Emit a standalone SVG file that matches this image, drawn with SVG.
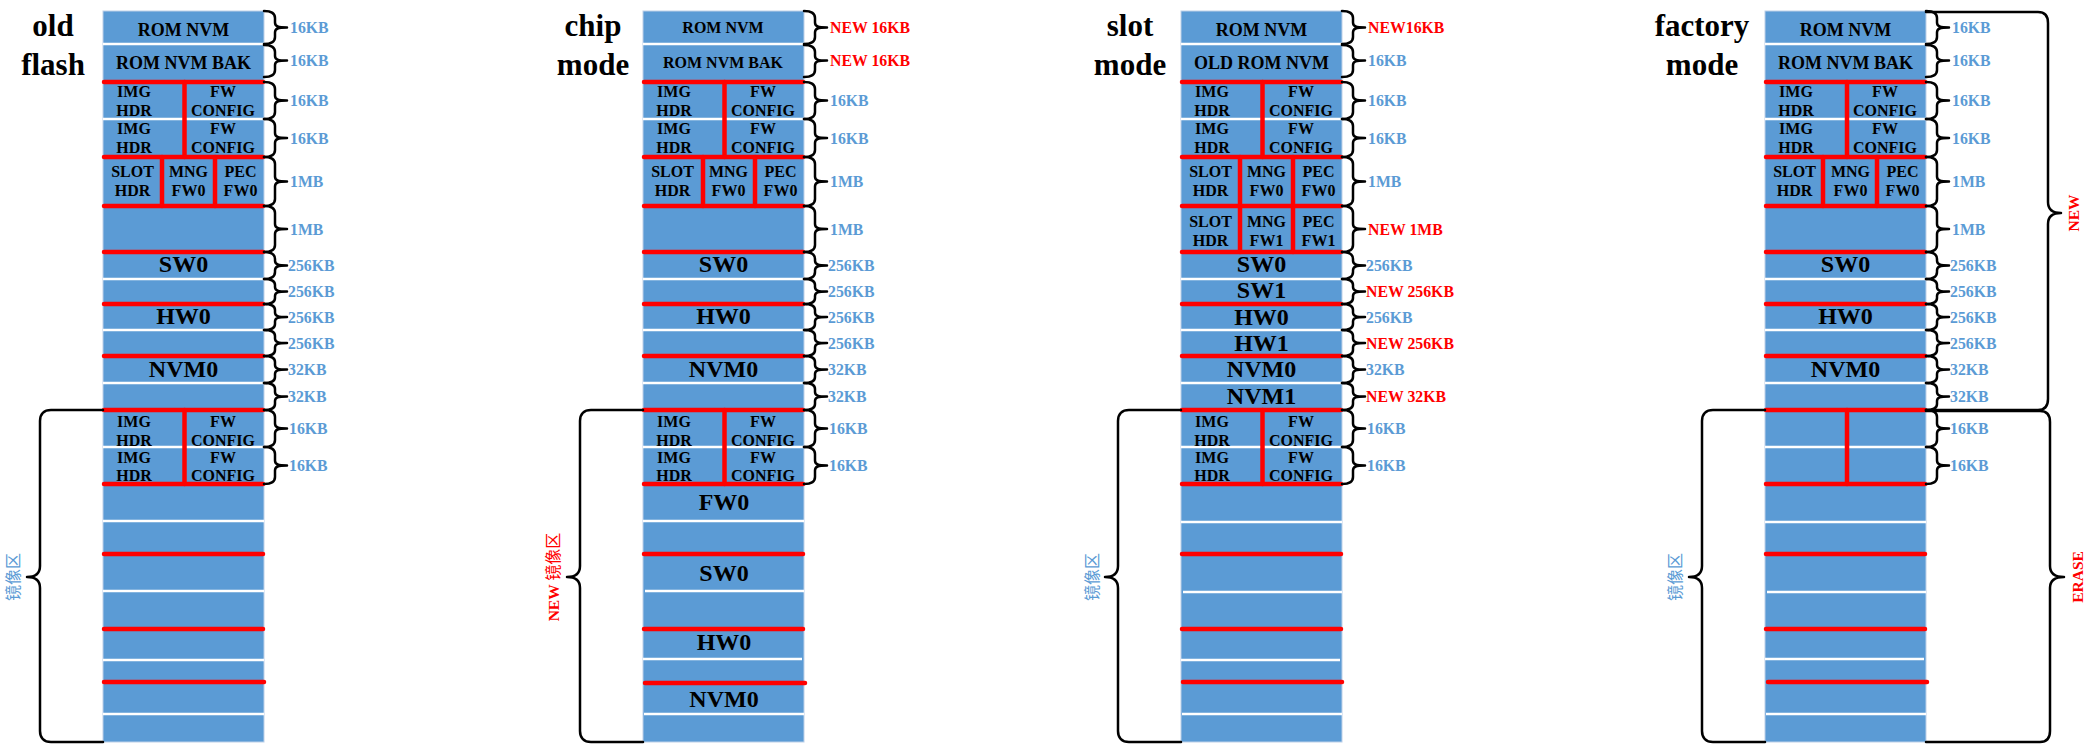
<svg xmlns="http://www.w3.org/2000/svg" xmlns:xlink="http://www.w3.org/1999/xlink" width="2094" height="750" viewBox="0 0 2094 750">
<style>
.col{fill:#5B9BD5;stroke:#BDD0E8;stroke-width:1}
.sep{stroke:#FFFFFF;stroke-width:2.5}
.rl{stroke:#FF0000;stroke-width:4.5;stroke-linecap:round;fill:none}
.br{fill:none;stroke:#000000;stroke-width:2.5;stroke-linejoin:round;stroke-linecap:round}
text{font-family:"Liberation Serif","Times New Roman",serif;font-weight:bold;text-anchor:middle;fill:#000000}
.title{font-size:31px}
.s{font-size:16px}
.m{font-size:18px}
.L{font-size:24px}
.kb{font-size:15.8px;fill:#5B9BD5;text-anchor:start}
.nk{font-size:15.8px;fill:#FF0000;text-anchor:start}
.vr{font-size:15.5px;text-anchor:middle;dominant-baseline:central}
.cj{font-family:"Liberation Serif","Noto Sans CJK SC",sans-serif;font-weight:normal;font-size:16px}
</style>
<defs>
<g id="rb" class="br">
<path d="M0,11 C7,11 11,13 11,18 L11,22.5 C11,26.5 14,27.5 23,27.5 C14,27.5 11,28.5 11,32.5 L11,37 C11,42 7,44 0,44"/>
<path d="M0,45 C7,45 11,47 11,52 L11,56 C11,59.5 14,60.5 23,60.5 C14,60.5 11,61.5 11,65 L11,70 C11,75 7,77 0,77"/>
<path d="M0,82 C7,82 11,84 11,89 L11,95.5 C11,99.5 14,100.5 23,100.5 C14,100.5 11,101.5 11,105.5 L11,112 C11,117 7,119 0,119"/>
<path d="M0,119 C7,119 11,121 11,126 L11,133 C11,137 14,138 23,138 C14,138 11,139 11,143 L11,150 C11,155 7,157 0,157"/>
<path d="M0,157 C7,157 11,159 11,164 L11,176.5 C11,180.5 14,181.5 23,181.5 C14,181.5 11,182.5 11,186.5 L11,199 C11,204 7,206 0,206"/>
<path d="M0,206 C7,206 11,208 11,213 L11,224 C11,228 14,229 23,229 C14,229 11,230 11,234 L11,245 C11,250 7,252 0,252"/>
<path d="M0,252 C7,252 11,254 11,259 L11,260.5 C11,264.5 14,265.5 23,265.5 C14,265.5 11,266.5 11,270.5 L11,272 C11,277 7,279 0,279"/>
<path d="M0,279 C7,279 11,281 11,285 L11,287 C11,290.5 14,291.5 23,291.5 C14,291.5 11,292.5 11,296 L11,298 C11,302 7,304 0,304"/>
<path d="M0,304 C7,304 11,306 11,310 L11,312.5 C11,316 14,317 23,317 C14,317 11,318 11,321.5 L11,324 C11,328 7,330 0,330"/>
<path d="M0,330 C7,330 11,332 11,336 L11,338.5 C11,342 14,343 23,343 C14,343 11,344 11,347.5 L11,350 C11,354 7,356 0,356"/>
<path d="M0,356 C7,356 11,358 11,362 L11,365 C11,368.5 14,369.5 23,369.5 C14,369.5 11,370.5 11,374 L11,377 C11,381 7,383 0,383"/>
<path d="M0,383 C7,383 11,385 11,389 L11,392 C11,395.5 14,396.5 23,396.5 C14,396.5 11,397.5 11,401 L11,404 C11,408 7,410 0,410"/>
<path d="M0,410 C7,410 11,412 11,417 L11,423.5 C11,427.5 14,428.5 23,428.5 C14,428.5 11,429.5 11,433.5 L11,440 C11,445 7,447 0,447"/>
<path d="M0,447 C7,447 11,449 11,454 L11,460.5 C11,464.5 14,465.5 23,465.5 C14,465.5 11,466.5 11,470.5 L11,477 C11,482 7,484 0,484"/>
</g>
<path id="lb" class="br" d="M0,410 L-52,410 C-59,410 -63,414 -63,421 L-63,566 C-63,573 -67,577 -76,577 C-67,577 -63,581 -63,588 L-63,731 C-63,738 -59,742 -52,742 L0,742"/>
<g id="top2">
<text class="s" x="31" y="97">IMG</text><text class="s" x="31" y="116">HDR</text>
<text class="s" x="120" y="97">FW</text><text class="s" x="120" y="116">CONFIG</text>
<text class="s" x="31" y="134">IMG</text><text class="s" x="31" y="153">HDR</text>
<text class="s" x="120" y="134">FW</text><text class="s" x="120" y="153">CONFIG</text>
<text class="s" x="29.5" y="177">SLOT</text><text class="s" x="29.5" y="196">HDR</text>
<text class="s" x="85.5" y="177">MNG</text><text class="s" x="85.5" y="196">FW0</text>
<text class="s" x="137.5" y="177">PEC</text><text class="s" x="137.5" y="196">FW0</text>
</g>
<g id="low2">
<text class="s" x="31" y="427">IMG</text><text class="s" x="31" y="446">HDR</text>
<text class="s" x="120" y="427">FW</text><text class="s" x="120" y="446">CONFIG</text>
<text class="s" x="31" y="463">IMG</text><text class="s" x="31" y="481">HDR</text>
<text class="s" x="120" y="463">FW</text><text class="s" x="120" y="481">CONFIG</text>
</g>
</defs>

<!-- Column 1: old flash -->
<g id="col-old-flash">
<text class="title" x="53" y="36">old</text>
<text class="title" x="53" y="75">flash</text>
<g id="old-blocks" transform="translate(103,0)">
<rect class="col" x="0" y="11" width="161" height="731"/>
<g class="sep">
<line x1="0" y1="44" x2="161" y2="44"/><line x1="0" y1="119" x2="161" y2="119"/>
<line x1="0" y1="279" x2="161" y2="279"/><line x1="0" y1="330" x2="161" y2="330"/>
<line x1="0" y1="383" x2="161" y2="383"/><line x1="0" y1="447" x2="161" y2="447"/>
<line x1="0" y1="521" x2="161" y2="521"/><line x1="0" y1="591" x2="161" y2="591"/>
<line x1="0" y1="660" x2="161" y2="660"/><line x1="0" y1="714" x2="161" y2="714"/>
</g>
<g class="rl">
<line x1="1" y1="82" x2="160" y2="82"/><line x1="1" y1="157" x2="160" y2="157"/>
<line x1="1" y1="206" x2="160" y2="206"/><line x1="1" y1="252" x2="160" y2="252"/>
<line x1="1" y1="304" x2="160" y2="304"/><line x1="1" y1="356" x2="160" y2="356"/>
<line x1="1" y1="410" x2="160" y2="410"/><line x1="1" y1="484" x2="160" y2="484"/>
<line x1="1" y1="554" x2="160" y2="554"/><line x1="1" y1="629" x2="160" y2="629"/>
<line x1="1" y1="682" x2="161" y2="682"/>
<line x1="81.5" y1="82" x2="81.5" y2="157"/><line x1="81.5" y1="410" x2="81.5" y2="484"/>
<line x1="59" y1="157" x2="59" y2="206"/><line x1="112" y1="157" x2="112" y2="206"/>
</g>
<text class="m" x="80.5" y="36">ROM NVM</text>
<text class="m" x="80.5" y="69">ROM NVM BAK</text>
<use xlink:href="#top2"/>
<text class="L" x="80.5" y="272">SW0</text>
<text class="L" x="80.5" y="324">HW0</text>
<text class="L" x="80.5" y="377">NVM0</text>
<use xlink:href="#low2"/>
</g>
<g id="old-sizes">
<text class="kb" x="290" y="33">16KB</text><text class="kb" x="290" y="65.5">16KB</text>
<text class="kb" x="290" y="106">16KB</text><text class="kb" x="290" y="143.5">16KB</text>
<text class="kb" x="290" y="187">1MB</text><text class="kb" x="290" y="234.5">1MB</text>
<text class="kb" x="288" y="271">256KB</text><text class="kb" x="288" y="297">256KB</text>
<text class="kb" x="288" y="322.5">256KB</text><text class="kb" x="288" y="348.5">256KB</text>
<text class="kb" x="288" y="375">32KB</text><text class="kb" x="288" y="402">32KB</text>
<text class="kb" x="289" y="434">16KB</text><text class="kb" x="289" y="471">16KB</text>
</g>
<text class="vr cj" transform="translate(13.5,577) rotate(-90)" style="fill:#5B9BD5">镜像区</text>
</g>

<!-- Column 2: chip mode -->
<g id="col-chip-mode">
<text class="title" x="593" y="36">chip</text>
<text class="title" x="593" y="75">mode</text>
<g id="chip-blocks" transform="translate(643,0)">
<rect class="col" x="0" y="11" width="161" height="731"/>
<g class="sep">
<line x1="0" y1="44" x2="161" y2="44"/><line x1="0" y1="119" x2="161" y2="119"/>
<line x1="0" y1="279" x2="161" y2="279"/><line x1="0" y1="330" x2="161" y2="330"/>
<line x1="0" y1="383" x2="161" y2="383"/><line x1="0" y1="447" x2="161" y2="447"/>
<line x1="0" y1="521" x2="161" y2="521"/><line x1="2" y1="591" x2="161" y2="591"/>
<line x1="0" y1="659" x2="159" y2="659"/><line x1="1" y1="714" x2="161" y2="714"/>
</g>
<g class="rl">
<line x1="1" y1="82" x2="160" y2="82"/><line x1="1" y1="157" x2="160" y2="157"/>
<line x1="1" y1="206" x2="160" y2="206"/><line x1="1" y1="252" x2="160" y2="252"/>
<line x1="1" y1="304" x2="160" y2="304"/><line x1="1" y1="356" x2="160" y2="356"/>
<line x1="1" y1="410" x2="160" y2="410"/><line x1="1" y1="484" x2="160" y2="484"/>
<line x1="1" y1="554" x2="160" y2="554"/><line x1="1" y1="629" x2="160" y2="629"/>
<line x1="2" y1="683" x2="162" y2="683"/>
<line x1="81.5" y1="82" x2="81.5" y2="157"/><line x1="81.5" y1="410" x2="81.5" y2="484"/>
<line x1="60" y1="157" x2="60" y2="206"/><line x1="112" y1="157" x2="112" y2="206"/>
</g>
<text class="s" x="80" y="33">ROM NVM</text>
<text class="s" x="80" y="68">ROM NVM BAK</text>
<use xlink:href="#top2"/>
<text class="L" x="80.5" y="272">SW0</text>
<text class="L" x="80.5" y="324">HW0</text>
<text class="L" x="80.5" y="377">NVM0</text>
<use xlink:href="#low2"/>
<text class="L" x="81" y="510">FW0</text>
<text class="L" x="81" y="581">SW0</text>
<text class="L" x="81" y="650">HW0</text>
<text class="L" x="81" y="707">NVM0</text>
</g>
<g id="chip-sizes">
<text class="nk" x="830" y="33">NEW 16KB</text><text class="nk" x="830" y="65.5">NEW 16KB</text>
<text class="kb" x="830" y="106">16KB</text><text class="kb" x="830" y="143.5">16KB</text>
<text class="kb" x="830" y="187">1MB</text><text class="kb" x="830" y="234.5">1MB</text>
<text class="kb" x="828" y="271">256KB</text><text class="kb" x="828" y="297">256KB</text>
<text class="kb" x="828" y="322.5">256KB</text><text class="kb" x="828" y="348.5">256KB</text>
<text class="kb" x="828" y="375">32KB</text><text class="kb" x="828" y="402">32KB</text>
<text class="kb" x="829" y="434">16KB</text><text class="kb" x="829" y="471">16KB</text>
</g>
<text class="vr" transform="translate(553,577) rotate(-90)" style="fill:#FF0000">NEW <tspan class="cj">镜像区</tspan></text>
</g>

<!-- Column 3: slot mode -->
<g id="col-slot-mode">
<text class="title" x="1130" y="36">slot</text>
<text class="title" x="1130" y="75">mode</text>
<g id="slot-blocks" transform="translate(1181,0)">
<rect class="col" x="0" y="11" width="161" height="731"/>
<g class="sep">
<line x1="0" y1="44" x2="161" y2="44"/><line x1="0" y1="119" x2="161" y2="119"/>
<line x1="0" y1="279" x2="161" y2="279"/><line x1="0" y1="330" x2="161" y2="330"/>
<line x1="0" y1="383" x2="161" y2="383"/><line x1="0" y1="447" x2="161" y2="447"/>
<line x1="0" y1="522" x2="161" y2="522"/><line x1="2" y1="592" x2="161" y2="592"/>
<line x1="0" y1="660" x2="159" y2="660"/><line x1="1" y1="714" x2="161" y2="714"/>
</g>
<g class="rl">
<line x1="1" y1="82" x2="160" y2="82"/><line x1="1" y1="157" x2="160" y2="157"/>
<line x1="1" y1="206" x2="160" y2="206"/><line x1="1" y1="252" x2="160" y2="252"/>
<line x1="1" y1="304" x2="160" y2="304"/><line x1="1" y1="356" x2="160" y2="356"/>
<line x1="1" y1="410" x2="160" y2="410"/><line x1="1" y1="484" x2="160" y2="484"/>
<line x1="1" y1="554" x2="160" y2="554"/><line x1="1" y1="629" x2="160" y2="629"/>
<line x1="2" y1="682" x2="161" y2="682"/>
<line x1="81.5" y1="82" x2="81.5" y2="157"/><line x1="81.5" y1="410" x2="81.5" y2="484"/>
<line x1="59" y1="157" x2="59" y2="252"/><line x1="112" y1="157" x2="112" y2="252"/>
</g>
<text class="m" x="80.5" y="36">ROM NVM</text>
<text class="m" x="80.5" y="69">OLD ROM NVM</text>
<use xlink:href="#top2"/>
<text class="s" x="29.5" y="227">SLOT</text><text class="s" x="29.5" y="246">HDR</text>
<text class="s" x="85.5" y="227">MNG</text><text class="s" x="85.5" y="246">FW1</text>
<text class="s" x="137.5" y="227">PEC</text><text class="s" x="137.5" y="246">FW1</text>
<text class="L" x="80.5" y="272">SW0</text>
<text class="L" x="80.5" y="298">SW1</text>
<text class="L" x="80.5" y="325">HW0</text>
<text class="L" x="80.5" y="351">HW1</text>
<text class="L" x="80.5" y="377">NVM0</text>
<text class="L" x="80.5" y="404">NVM1</text>
<use xlink:href="#low2"/>
</g>
<g id="slot-sizes">
<text class="nk" x="1368" y="33">NEW16KB</text><text class="kb" x="1368" y="65.5">16KB</text>
<text class="kb" x="1368" y="106">16KB</text><text class="kb" x="1368" y="143.5">16KB</text>
<text class="kb" x="1368" y="187">1MB</text><text class="nk" x="1368" y="234.5">NEW 1MB</text>
<text class="kb" x="1366" y="271">256KB</text><text class="nk" x="1366" y="297">NEW 256KB</text>
<text class="kb" x="1366" y="322.5">256KB</text><text class="nk" x="1366" y="348.5">NEW 256KB</text>
<text class="kb" x="1366" y="375">32KB</text><text class="nk" x="1366" y="402">NEW 32KB</text>
<text class="kb" x="1367" y="434">16KB</text><text class="kb" x="1367" y="471">16KB</text>
</g>
<text class="vr cj" transform="translate(1092,577) rotate(-90)" style="fill:#5B9BD5">镜像区</text>
</g>

<!-- Column 4: factory mode -->
<g id="col-factory-mode">
<text class="title" x="1702" y="36">factory</text>
<text class="title" x="1702" y="75">mode</text>
<g id="factory-blocks" transform="translate(1765,0)">
<rect class="col" x="0" y="11" width="161" height="731"/>
<g class="sep">
<line x1="0" y1="44" x2="161" y2="44"/><line x1="0" y1="119" x2="161" y2="119"/>
<line x1="0" y1="279" x2="161" y2="279"/><line x1="0" y1="330" x2="161" y2="330"/>
<line x1="0" y1="383" x2="161" y2="383"/><line x1="0" y1="447" x2="161" y2="447"/>
<line x1="0" y1="522" x2="161" y2="522"/><line x1="2" y1="592" x2="161" y2="592"/>
<line x1="0" y1="659" x2="159" y2="659"/><line x1="1" y1="714" x2="161" y2="714"/>
</g>
<g class="rl">
<line x1="1" y1="82" x2="160" y2="82"/><line x1="1" y1="157" x2="160" y2="157"/>
<line x1="1" y1="206" x2="160" y2="206"/><line x1="1" y1="252" x2="160" y2="252"/>
<line x1="1" y1="304" x2="160" y2="304"/><line x1="1" y1="356" x2="160" y2="356"/>
<line x1="1" y1="410" x2="160" y2="410"/><line x1="1" y1="484" x2="160" y2="484"/>
<line x1="1" y1="554" x2="160" y2="554"/><line x1="1" y1="629" x2="160" y2="629"/>
<line x1="3" y1="682" x2="162" y2="682"/>
<line x1="82" y1="82" x2="82" y2="157"/><line x1="82" y1="410" x2="82" y2="484"/>
<line x1="58" y1="157" x2="58" y2="206"/><line x1="112" y1="157" x2="112" y2="206"/>
</g>
<text class="m" x="80.5" y="36">ROM NVM</text>
<text class="m" x="80.5" y="69">ROM NVM BAK</text>
<use xlink:href="#top2"/>
<text class="L" x="80.5" y="272">SW0</text>
<text class="L" x="80.5" y="324">HW0</text>
<text class="L" x="80.5" y="377">NVM0</text>
</g>
<g id="factory-sizes">
<text class="kb" x="1952" y="33">16KB</text><text class="kb" x="1952" y="65.5">16KB</text>
<text class="kb" x="1952" y="106">16KB</text><text class="kb" x="1952" y="143.5">16KB</text>
<text class="kb" x="1952" y="187">1MB</text><text class="kb" x="1952" y="234.5">1MB</text>
<text class="kb" x="1950" y="271">256KB</text><text class="kb" x="1950" y="297">256KB</text>
<text class="kb" x="1950" y="322.5">256KB</text><text class="kb" x="1950" y="348.5">256KB</text>
<text class="kb" x="1950" y="375">32KB</text><text class="kb" x="1950" y="402">32KB</text>
<text class="kb" x="1950" y="434">16KB</text><text class="kb" x="1950" y="471">16KB</text>
</g>
<text class="vr cj" transform="translate(1675,577) rotate(-90)" style="fill:#5B9BD5">镜像区</text>
<text class="vr" transform="translate(2073,213) rotate(-90)" style="fill:#FF0000">NEW</text>
<text class="vr" transform="translate(2077,577) rotate(-90)" style="fill:#FF0000">ERASE</text>
</g>

<!-- Connectors: braces -->
<g id="connectors">
<use xlink:href="#rb" x="264"/>
<use xlink:href="#rb" x="804"/>
<use xlink:href="#rb" x="1342"/>
<use xlink:href="#rb" x="1926"/>
<use xlink:href="#lb" x="103"/>
<use xlink:href="#lb" x="643"/>
<use xlink:href="#lb" x="1181"/>
<use xlink:href="#lb" x="1765"/>
<path class="br" d="M1926,12 L2038,12 C2045,12 2048,16 2048,23 L2048,202 C2048,209 2052,213 2061,213 C2052,213 2048,217 2048,224 L2048,399 C2048,406 2045,410 2038,410 L1926,410"/>
<path class="br" d="M1926,411 L2040,411 C2047,411 2050,415 2050,422 L2050,566 C2050,573 2054,577 2064,577 C2054,577 2050,581 2050,588 L2050,731 C2050,738 2047,742 2040,742 L1926,742"/>
</g>
</svg>
